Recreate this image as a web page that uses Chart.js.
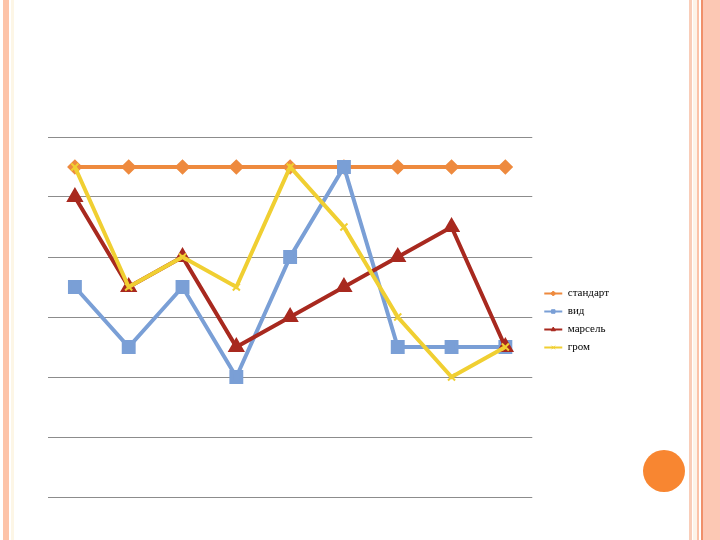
<!DOCTYPE html>
<html>
<head>
<meta charset="utf-8">
<script src="https://cdn.jsdelivr.net/npm/chart.js@4"></script>
<style>
  html, body { margin: 0; padding: 0; background: #fff; }
  body { width: 720px; height: 540px; position: relative; overflow: hidden; }
  .strip { position: absolute; top: 0; height: 540px; }
  #chartBox { position: absolute; left: 37px; top: 126px; width: 582px; height: 389px; }
  .dot { position: absolute; left: 643px; top: 450px; width: 42px; height: 42px; border-radius: 50%; background: #f88631; }
</style>
</head>
<body>
<!-- slide frame -->
<div class="strip" style="left:3px;width:6px;background:#fdc3a8"></div>
<div class="strip" style="left:11px;width:3px;background:#fdf6e6"></div>
<div class="strip" style="left:689px;width:3px;background:#f9cdb8"></div>
<div class="strip" style="left:693px;width:4px;background:#fdf3e8"></div>
<div class="strip" style="left:697px;width:2px;background:#fbc2a8"></div>
<div class="strip" style="left:701px;width:2px;background:#f0906a"></div>
<div class="strip" style="left:703px;width:17px;background:#fcc8b4"></div>
<div class="dot"></div>

<div id="chartBox"><canvas id="lineChart"></canvas></div>

<script>
// categories and series (no axis labels shown)
const categories = ["1", "2", "3", "4", "5", "6", "7", "8", "9"];
const standart = [5.5, 5.5, 5.5, 5.5, 5.5, 5.5, 5.5, 5.5, 5.5];
const vid      = [3.5, 2.5, 3.5, 2, 4, 5.5, 2.5, 2.5, 2.5];
const marsel   = [5, 3.5, 4, 2.5, 3, 3.5, 4, 4.5, 2.5];
const grom     = [5.5, 3.5, 4, 3.5, 5.5, 4.5, 3, 2, 2.5];
const seriesNames = ["стандарт", "вид", "марсель", "гром"];

// markers on the legend lines
const legendMarkers = {
    id: "legendMarkers",
    afterDraw(chart) {
        const legend = chart.legend;
        if (!legend || !legend.legendHitBoxes) return;
        const ctx = chart.ctx;
        legend.legendItems.forEach((item, i) => {
            const box = legend.legendHitBoxes[i];
            const ds = chart.data.datasets[item.datasetIndex];
            const x = box.left + 9;
            const y = box.top + box.height / 2;
            ctx.save();
            ctx.fillStyle = ds.borderColor;
            ctx.strokeStyle = ds.borderColor;
            Chart.helpers.drawPoint(ctx, {
                pointStyle: ds.pointStyle,
                radius: 2.5,
                rotation: 0,
                borderWidth: 1
            }, x, y);
            ctx.restore();
        });
    }
};

const ctx = document.getElementById("lineChart");

new Chart(ctx, {
    type: "line",
    data: {
        labels: categories,
        datasets: [
            { label: seriesNames[0], data: standart, borderColor: "#ee8a3e", backgroundColor: "#ee8a3e",
              borderWidth: 4, pointStyle: "rectRot", pointRadius: 5, order: 4 },
            { label: seriesNames[1], data: vid, borderColor: "#7a9fd6", backgroundColor: "#7a9fd6",
              borderWidth: 4, pointStyle: "rect", pointRadius: 7, order: 3 },
            { label: seriesNames[2], data: marsel, borderColor: "#a8291f", backgroundColor: "#a8291f",
              borderWidth: 4, pointStyle: "triangle", pointRadius: 6, order: 2 },
            { label: seriesNames[3], data: grom, borderColor: "#f0cf32", backgroundColor: "#f0cf32",
              borderWidth: 4, pointStyle: "crossRot", pointRadius: 5, pointBorderWidth: 2, order: 1 }
        ]
    },
    options: {
        responsive: true,
        maintainAspectRatio: false,
        animation: false,
        layout: { padding: { top: 10, bottom: 10, left: 10, right: 0 } },
        elements: { line: { tension: 0 } },
        plugins: {
            legend: {
                position: "right",
                labels: {
                    font: { family: "Liberation Serif", size: 11 },
                    color: "#000",
                    usePointStyle: true,
                    pointStyleWidth: 18,
                    padding: 7,
                    sort: (a, b) => a.datasetIndex - b.datasetIndex,
                    generateLabels(chart) {
                        const items = Chart.defaults.plugins.legend.labels.generateLabels(chart);
                        items.forEach(it => { it.pointStyle = "line"; it.lineWidth = 2; });
                        return items;
                    }
                }
            },
            tooltip: { enabled: false }
        },
        scales: {
            x: {
                offset: true,
                grid: { display: false },
                border: { display: false },
                ticks: { display: false }
            },
            y: {
                min: 0,
                max: 6,
                ticks: { display: false, stepSize: 1 },
                border: { display: false },
                grid: { color: "#8c8c8c", lineWidth: 1, drawTicks: false }
            },
            // empty axis only used as a gap before the legend
            gap: {
                type: "linear",
                position: "right",
                grid: { display: false },
                border: { display: false },
                ticks: { display: false },
                afterFit(scale) { scale.width = 5; }
            }
        }
    },
    plugins: [legendMarkers]
});
</script>
</body>
</html>
